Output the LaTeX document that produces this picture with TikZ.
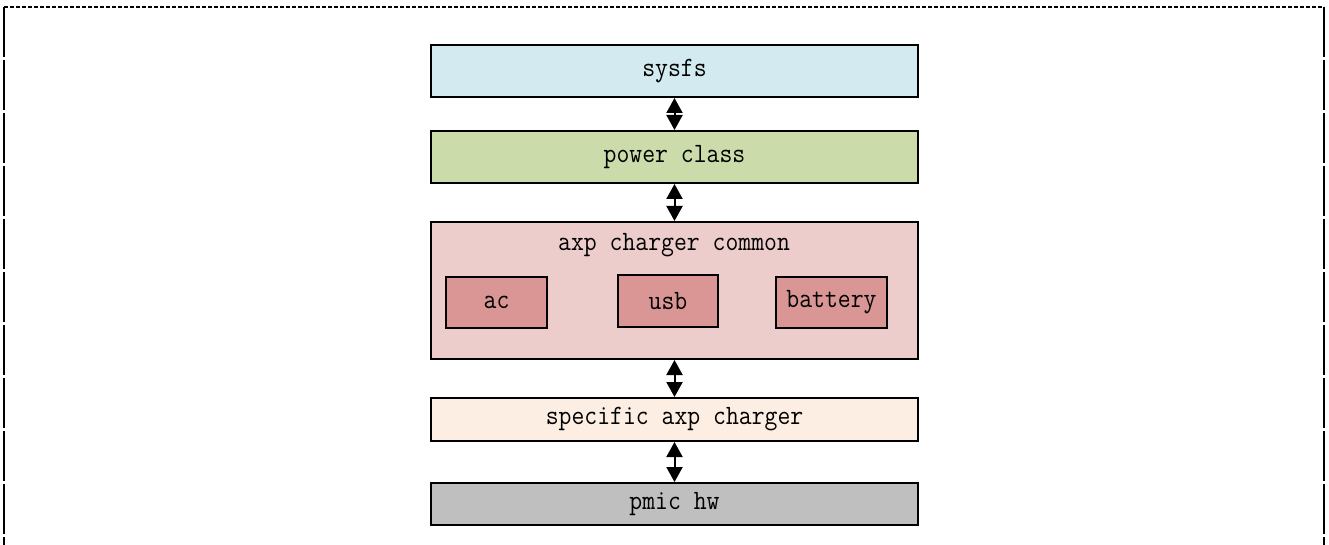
\documentclass[tikz,border=0pt]{standalone}
\usetikzlibrary{arrows.meta}
\definecolor{sysfsblue}{HTML}{D3EAF0}
\definecolor{classgreen}{HTML}{CCDBAA}
\definecolor{commonpink}{HTML}{ECCDCC}
\definecolor{supplyred}{HTML}{D99694}
\definecolor{specpeach}{HTML}{FDEEE3}
\definecolor{hwgray}{HTML}{BFBFBF}
\tikzset{
  layer/.style={draw=black, line width=2pt, minimum width=487pt, anchor=north west, inner sep=0pt},
  supply/.style={draw=black, line width=2pt, anchor=north west, inner sep=0pt, fill=supplyred},
  lbl/.style={font=\fontsize{25}{27}\selectfont\ttfamily, yscale=1.12},
  link/.style={line width=2pt, {Triangle[width=16pt,length=15pt]}-{Triangle[width=16pt,length=15pt]}},
  frameline/.style={line width=2.5pt}
}
\begin{document}
\begin{tikzpicture}[x=1pt,y=-1pt]
\useasboundingbox (0,0) rectangle (1329,545);
% outer frame (open at the bottom)
\draw[frameline, dash pattern=on 4pt off 2pt] (4,7) -- (1324,7);
\draw[frameline, dash pattern=on 50pt off 3pt] (4,7) -- (4,545);
\draw[frameline, dash pattern=on 50pt off 3pt] (1324,7) -- (1324,545);
% layers
\node[layer, fill=sysfsblue, minimum height=52pt] (sysfs) at (430,44) {};
\node[lbl] at (sysfs.center) {sysfs};
\node[layer, fill=classgreen, minimum height=52pt] (class) at (430,130) {};
\node[lbl] at (class.center) {power class};
\node[layer, fill=commonpink, minimum height=137pt] (common) at (430,221) {};
\node[lbl] (commontitle) at (674,245) {axp charger common};
\node[supply, minimum width=101pt, minimum height=51pt] (ac) at (445,276) {};
\node[lbl] at (ac.center) {ac};
\node[supply, minimum width=100pt, minimum height=52pt] (usb) at (617,274) {};
\node[lbl] at (usb.center) {usb};
\node[supply, minimum width=111pt, minimum height=51pt] (battery) at (775,276) {};
\node[lbl] at (battery.center) {battery};
\node[layer, fill=specpeach, minimum height=43pt] (spec) at (430,397) {};
\node[lbl] at (spec.center) {specific axp charger};
\node[layer, fill=hwgray, minimum height=42pt] (hw) at (430,482) {};
\node[lbl] at (hw.center) {pmic hw};
% connections between layers
\draw[link] (sysfs.south) -- (class.north);
\draw[link] (class.south) -- (common.north);
\draw[link] (common.south) -- (spec.north);
\draw[link] (spec.south) -- (hw.north);
\end{tikzpicture}
\end{document}
